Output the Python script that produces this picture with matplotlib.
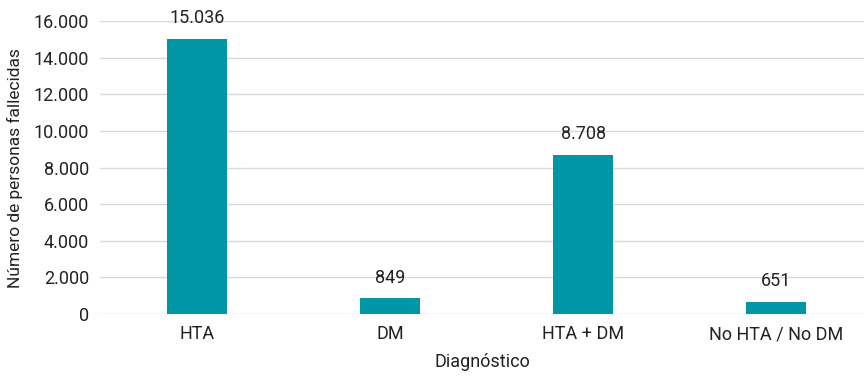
import matplotlib
matplotlib.use("Agg")
import matplotlib.pyplot as plt
from matplotlib.ticker import FuncFormatter

plt.rcParams['font.family'] = ['Roboto', 'DejaVu Sans']

# Datos
categorias = ['HTA', 'DM', 'HTA + DM', 'No HTA / No DM']
fallecidos = [15036, 849, 8708, 651]

def miles(v, pos=None):
    return f"{int(v):,}".replace(",", ".")

fig = plt.figure(figsize=(8.64, 3.77), dpi=100)
ax = fig.add_axes([0.116, 0.167, 0.884, 0.777])

x = range(len(categorias))
ax.bar(x, fallecidos, width=0.31, color='#0096A8', zorder=3)

for xi, v in zip(x, fallecidos):
    ax.text(xi, v + 650, miles(v), ha='center', va='bottom', fontsize=13, color='#222222', zorder=4)

ax.set_ylim(0, 16000)
ax.set_xlim(-0.503, 3.455)
ax.set_yticks(range(0, 16001, 2000))
ax.yaxis.set_major_formatter(FuncFormatter(miles))
ax.set_xticks(list(x))
ax.set_xticklabels(categorias)
ax.tick_params(axis='both', length=0, labelsize=13, colors='#222222')
ax.tick_params(axis='y', pad=8)
ax.tick_params(axis='x', pad=8)

ax.grid(axis='y', color='#d9d9d9', linewidth=1.0, zorder=0)
for s in ax.spines.values():
    s.set_visible(False)

ax.set_xlabel('Diagnóstico', fontsize=13, color='#222222', labelpad=7)
ax.set_ylabel('Número de personas fallecidas', fontsize=12.5, color='#222222', labelpad=8)

fig.savefig('out.png', dpi=100)
